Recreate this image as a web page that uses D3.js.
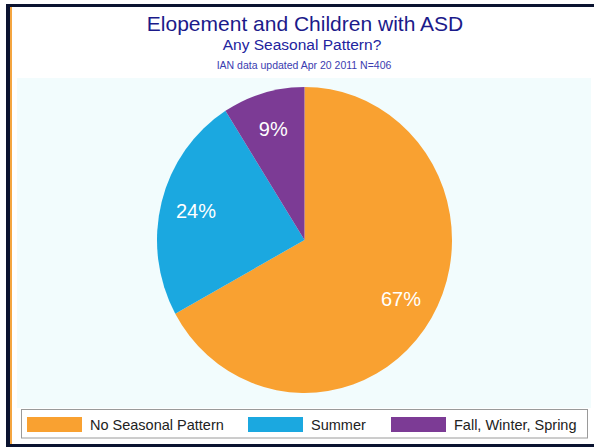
<!DOCTYPE html>
<html>
<head>
<meta charset="utf-8">
<script src="https://cdn.jsdelivr.net/npm/d3@7"></script>
<style>
  html, body { margin: 0; padding: 0; background: #ffffff; }
  svg { display: block; font-family: "Liberation Sans", Arial, sans-serif; }
</style>
</head>
<body>
<svg id="chart" width="594" height="447"></svg>
<script>
// Seasonal pattern of elopement (percent of respondents)
const categories = ["No Seasonal Pattern", "Summer", "Fall, Winter, Spring"];
const values = [67, 24, 9];
const colors = ["#f9a131", "#1ba8e0", "#7c3b95"];

const titleText = "Elopement and Children with ASD";
const subtitleText = "Any Seasonal Pattern?";
const noteText = "IAN data updated Apr 20 2011 N=406";

const svg = d3.select("#chart");
const W = 594, H = 447;

// frame
svg.append("rect").attr("x", 6).attr("y", 4).attr("width", W - 6).attr("height", 443).attr("fill", "#0b1330");
svg.append("rect").attr("x", 10).attr("y", 7).attr("width", W - 10).attr("height", 437).attr("fill", "#f4a540");
svg.append("rect").attr("x", 12).attr("y", 7).attr("width", W - 12).attr("height", 437).attr("fill", "#ffffff");

// plot background
svg.append("rect").attr("x", 17).attr("y", 78).attr("width", 574).attr("height", 330).attr("fill", "#f2fcfd");

// titles
svg.append("text").attr("x", 305).attr("y", 31).attr("text-anchor", "middle")
  .attr("font-size", 21).attr("fill", "#1b1a8a").text(titleText);
svg.append("text").attr("x", 302).attr("y", 50).attr("text-anchor", "middle")
  .attr("font-size", 15.5).attr("fill", "#22239e").text(subtitleText);
svg.append("text").attr("x", 304).attr("y", 69).attr("text-anchor", "middle")
  .attr("font-size", 10.5).attr("fill", "#3a3cb0").text(noteText);

// pie
const cx = 304.5, cy = 240, R = 147.5, sy = 153 / 147.5;
const pie = d3.pie().sort(null).value(d => d)(values);
const arc = d3.arc().innerRadius(0).outerRadius(R);
const labelArc = d3.arc().innerRadius(R * 0.76).outerRadius(R * 0.76);

const g = svg.append("g").attr("transform", `translate(${cx},${cy}) scale(1,${sy})`);
g.selectAll("path").data(pie).join("path")
  .attr("d", arc)
  .attr("fill", (d, i) => colors[i]);

svg.append("g").selectAll("text").data(pie).join("text")
  .attr("x", d => cx + labelArc.centroid(d)[0])
  .attr("y", d => cy + labelArc.centroid(d)[1] * sy)
  .attr("dy", "0.36em")
  .attr("text-anchor", "middle")
  .attr("font-size", 20)
  .attr("fill", "#ffffff")
  .text(d => d.data + "%");

// legend
svg.append("rect").attr("x", 21.5).attr("y", 409.5).attr("width", 566).attr("height", 28.5)
  .attr("fill", "#ffffff").attr("stroke", "#9a9a9a").attr("stroke-width", 1);
const legendX = [27, 248, 391];
const legend = svg.append("g").selectAll("g").data(categories).join("g")
  .attr("transform", (d, i) => `translate(${legendX[i]},417)`);
legend.append("rect").attr("width", 55).attr("height", 15).attr("fill", (d, i) => colors[i]);
legend.append("text").attr("x", 63).attr("y", 13).attr("font-size", 14.5).attr("fill", "#222222").text(d => d);
</script>
</body>
</html>
